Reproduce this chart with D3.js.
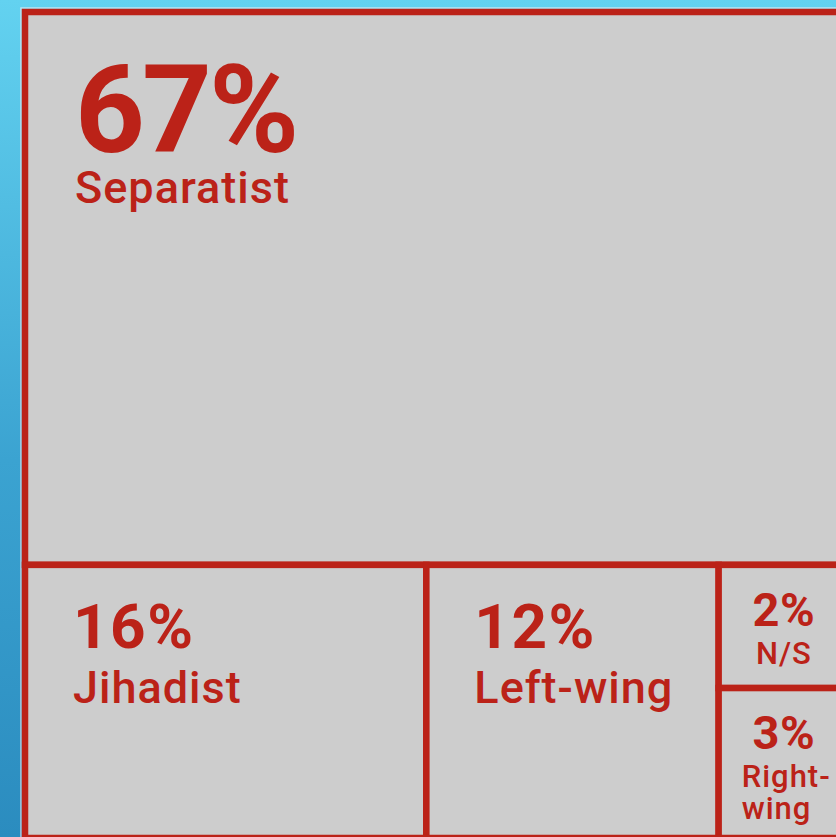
<!DOCTYPE html>
<html>
<head>
<meta charset="utf-8">
<script src="https://cdn.jsdelivr.net/npm/d3@7"></script>
<style>
  html, body { margin: 0; padding: 0; overflow: hidden; }
  svg { display: block; }
</style>
</head>
<body>
<div id="chart"></div>
<script>
// treemap of attack motives - share of total (%)
const groups = ["Separatist", "Other"];
const otherNames = ["Jihadist", "Left-wing", "Small"];
const smallNames = ["N/S", "Right-wing"];
const smallValues = [2.3, 2.8];
const otherValues = [16.2, 11.8];
const separatistValue = 67;
const labelLines = {"Separatist": ["Separatist"], "Jihadist": ["Jihadist"], "Left-wing": ["Left-wing"], "N/S": ["N/S"], "Right-wing": ["Right-", "wing"]};

const W = 836, H = 837;
const RED = "#bb2218", GREY = "#cdcdcd";
const margin = { left: 25, top: 12 };

// build hierarchy from the arrays
const tree = {
    name: "root",
    children: [
        { name: groups[0], value: separatistValue },
        { name: groups[1], children: [
            { name: otherNames[0], value: otherValues[0] },
            { name: otherNames[1], value: otherValues[1] },
            { name: otherNames[2], children: smallNames.map((n, i) => ({ name: n, value: smallValues[i] })) }
        ] }
    ]
};

const root = d3.hierarchy(tree).sum(d => d.value || 0);

// stack top/bottom at even depth, side by side at odd depth
d3.treemap()
    .tile((node, x0, y0, x1, y1) => (node.depth % 2 ? d3.treemapDice : d3.treemapSlice)(node, x0, y0, x1, y1))
    .size([820, 826])
    (root);

const svg = d3.select("#chart").append("svg")
    .attr("width", W)
    .attr("height", H);

const defs = svg.append("defs");
const grad = defs.append("linearGradient")
    .attr("id", "bg")
    .attr("x1", 0).attr("y1", 0).attr("x2", 0).attr("y2", 1);
grad.append("stop").attr("offset", "0%").attr("stop-color", "#63d2f0");
grad.append("stop").attr("offset", "55%").attr("stop-color", "#3ba3d1");
grad.append("stop").attr("offset", "100%").attr("stop-color", "#2b8cbf");

svg.append("rect").attr("width", W).attr("height", H).attr("fill", "url(#bg)");

const g = svg.append("g")
    .attr("transform", `translate(${margin.left},${margin.top})`);

// faint light edge around the box
g.append("rect")
    .attr("x", root.x0 - 4).attr("y", root.y0 - 4)
    .attr("width", root.x1 - root.x0 + 8).attr("height", root.y1 - root.y0 + 8)
    .attr("fill", "none").attr("stroke", "#e6eef2").attr("stroke-opacity", 0.7).attr("stroke-width", 1.5);

const leaves = root.leaves();

g.selectAll(".cell")
    .data(leaves)
    .enter()
    .append("rect")
    .attr("class", "cell")
    .attr("x", d => d.x0)
    .attr("y", d => d.y0)
    .attr("width", d => d.x1 - d.x0)
    .attr("height", d => d.y1 - d.y0)
    .attr("fill", GREY)
    .attr("stroke", RED)
    .attr("stroke-width", 6.5);

// text styles by depth
const style = {
    1: { num: 122, numLs: -3, lab: 45, labLs: 1, pad: 50, numBase: 140, labBase: 191, lh: 45, center: false },
    2: { num: 62, numLs: 1.5, lab: 45, labLs: 1, pad: 48, numBase: 83, labBase: 138, lh: 45, center: false },
    3: { num: 47, numLs: 0.5, lab: 31, labLs: 1, pad: 23, numBase: 61, labBase: 99, lh: 32, center: true }
};

const labels = g.selectAll(".label")
    .data(leaves)
    .enter()
    .append("g")
    .attr("class", "label")
    .attr("font-family", "Roboto, 'Noto Sans', sans-serif")
    .attr("fill", RED);

labels.append("text")
    .attr("x", d => style[d.depth].center ? (d.x0 + d.x1) / 2 + 2 : d.x0 + style[d.depth].pad)
    .attr("y", d => d.y0 + style[d.depth].numBase)
    .attr("text-anchor", d => style[d.depth].center ? "middle" : "start")
    .attr("font-size", d => style[d.depth].num)
    .attr("letter-spacing", d => style[d.depth].numLs)
    .attr("font-weight", 700)
    .text(d => Math.round(d.value) + "%");

labels.each(function(d) {
    const s = style[d.depth];
    const lines = labelLines[d.data.name];
    const wrapped = lines.length > 1;
    d3.select(this).selectAll(".line")
        .data(lines)
        .enter()
        .append("text")
        .attr("class", "line")
        .attr("x", s.center && !wrapped ? (d.x0 + d.x1) / 2 + 2 : d.x0 + s.pad)
        .attr("y", (l, i) => d.y0 + s.labBase + i * s.lh)
        .attr("text-anchor", s.center && !wrapped ? "middle" : "start")
        .attr("font-size", s.lab)
        .attr("letter-spacing", s.labLs)
        .attr("font-weight", 500)
        .text(l => l);
});
</script>
</body>
</html>
